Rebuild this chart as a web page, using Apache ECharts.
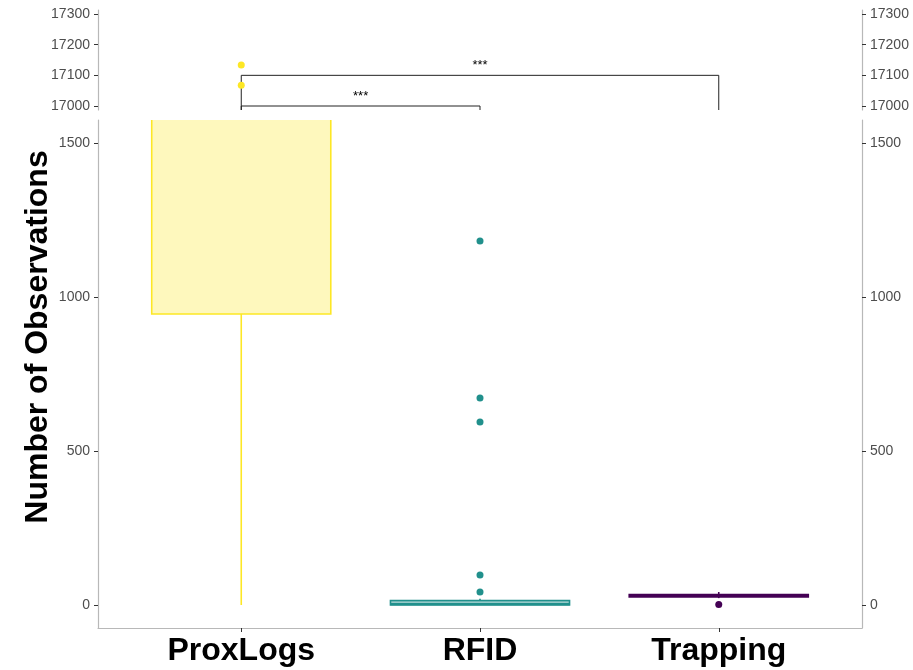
<!DOCTYPE html>
<html>
<head>
<meta charset="utf-8">
<script src="https://cdn.jsdelivr.net/npm/echarts@6/dist/echarts.min.js"></script>
<style>
  html, body { margin: 0; padding: 0; background: #fff; }
  #chart { width: 913px; height: 670px; }
</style>
</head>
<body>
<div id="chart"></div>
<script>
// Observations per method, shown as box plots on a broken y axis
const categories = ['ProxLogs', 'RFID', 'Trapping'];
const colors = ['#FDE725', '#21908C', '#440154'];

// Box statistics per method
const whiskerLow = [0, 0, 22];
const quartile1 = [945, 0, 26];
const medians = [2600, 3, 30];
const quartile3 = [5200, 14, 34];
const whiskerHigh = [9800, 20, 42];

// Outlying observations: [method index, value]
const outliers = [
  [0, 17068], [0, 17134],
  [1, 42], [1, 97], [1, 594], [1, 672], [1, 1182],
  [2, 1]
];

// Significance brackets between methods
const bracketFrom = [1, 1];
const bracketTo = [2, 3];
const bracketY = [17000, 17100];
const bracketText = ['***', '***'];

// Tick values of the two panels
const upperTicks = [17000, 17100, 17200, 17300];
const lowerTicks = [0, 500, 1000, 1500];

const BOX_HALF = 0.375;
const FONT = '"Liberation Sans", Arial, Helvetica, sans-serif';

const boxData = categories.map((c, i) => [i + 1, whiskerLow[i], quartile1[i], medians[i], quartile3[i], whiskerHigh[i]]);
const outlierData = outliers.map(d => [d[0] + 1, d[1], d[0]]);
const bracketData = bracketFrom.map((f, i) => [f, bracketTo[i], bracketY[i], bracketText[i]]);

function fillOf(hex) {
  const r = parseInt(hex.slice(1, 3), 16), g = parseInt(hex.slice(3, 5), 16), b = parseInt(hex.slice(5, 7), 16);
  return 'rgba(' + r + ',' + g + ',' + b + ',0.3)';
}

function renderBox(params, api) {
  const x = api.value(0);
  const low = api.value(1), q1 = api.value(2), med = api.value(3), q3 = api.value(4), high = api.value(5);
  const col = colors[params.dataIndex];
  const pLow = api.coord([x, low]);
  const pHigh = api.coord([x, high]);
  const pQ1L = api.coord([x - BOX_HALF, q1]);
  const pQ3R = api.coord([x + BOX_HALF, q3]);
  const pMedL = api.coord([x - BOX_HALF, med]);
  const pMedR = api.coord([x + BOX_HALF, med]);
  const lineStyle = { stroke: col, lineWidth: 1.6, fill: null };
  return {
    type: 'group',
    children: [
      { type: 'line', shape: { x1: pLow[0], y1: pLow[1], x2: pLow[0], y2: pQ1L[1] }, style: lineStyle },
      { type: 'line', shape: { x1: pHigh[0], y1: pQ3R[1], x2: pHigh[0], y2: pHigh[1] }, style: lineStyle },
      {
        type: 'rect',
        shape: { x: pQ1L[0], y: pQ3R[1], width: pQ3R[0] - pQ1L[0], height: pQ1L[1] - pQ3R[1] },
        style: { fill: fillOf(col), stroke: col, lineWidth: 1.6 }
      },
      { type: 'line', shape: { x1: pMedL[0], y1: pMedL[1], x2: pMedR[0], y2: pMedR[1] }, style: { stroke: col, lineWidth: 2.6 } }
    ]
  };
}

function renderBracket(params, api) {
  const a = api.value(0), b = api.value(1), y = api.value(2);
  const cs = params.coordSys;
  const bottom = cs.y + cs.height;
  const p1 = api.coord([a, y]);
  const p2 = api.coord([b, y]);
  return {
    type: 'group',
    children: [
      {
        type: 'polyline',
        shape: { points: [[p1[0], bottom], [p1[0], p1[1]], [p2[0], p2[1]], [p2[0], bottom]] },
        style: { stroke: '#222', lineWidth: 1, fill: null }
      },
      {
        type: 'text',
        x: (p1[0] + p2[0]) / 2,
        y: p1[1] - 3,
        style: {
          text: bracketText[params.dataIndex],
          fill: '#000', fontSize: 13, fontFamily: FONT,
          align: 'center', verticalAlign: 'bottom'
        }
      }
    ]
  };
}

const tickLabel = { color: '#4d4d4d', fontSize: 14, fontFamily: FONT, margin: 8, formatter: v => String(v) };
const axisLine = { show: true, onZero: false, lineStyle: { color: '#b8b8b8', width: 1.2 } };
const axisTick = { show: true, length: 4, lineStyle: { color: '#333', width: 1 } };

function yAxisFor(gridIndex, position, min, max, ticks) {
  return {
    type: 'value', gridIndex: gridIndex, position: position, min: min, max: max,
    axisLine: axisLine,
    axisTick: Object.assign({ customValues: ticks }, axisTick),
    axisLabel: Object.assign({ customValues: ticks }, tickLabel),
    splitLine: { show: false }
  };
}

const chart = echarts.init(document.getElementById('chart'), null, { renderer: 'canvas' });

chart.setOption({
  animation: false,
  backgroundColor: '#ffffff',
  grid: [
    { left: 98, right: 51, top: 10, height: 100 },
    { left: 98, right: 51, top: 120, height: 508 }
  ],
  xAxis: [
    { type: 'value', gridIndex: 0, min: 0.4, max: 3.6, show: false },
    {
      type: 'value', gridIndex: 1, min: 0.4, max: 3.6, position: 'bottom',
      axisLine: axisLine,
      axisTick: Object.assign({ customValues: [1, 2, 3] }, axisTick),
      axisLabel: {
        customValues: [1, 2, 3],
        formatter: v => categories[Math.round(v) - 1],
        color: '#000', fontSize: 32, fontWeight: 'bold', fontFamily: FONT, margin: 7
      },
      splitLine: { show: false }
    }
  ],
  yAxis: [
    yAxisFor(0, 'left', 16987, 17313, upperTicks),
    yAxisFor(0, 'right', 16987, 17313, upperTicks),
    yAxisFor(1, 'left', -75, 1575, lowerTicks),
    yAxisFor(1, 'right', -75, 1575, lowerTicks)
  ],
  graphic: [{
    type: 'text',
    x: 38, y: 337,
    rotation: Math.PI / 2,
    style: {
      text: 'Number of Observations',
      fill: '#000', fontSize: 32, fontWeight: 'bold', fontFamily: FONT,
      align: 'center', verticalAlign: 'middle'
    }
  }],
  series: [
    {
      type: 'custom', xAxisIndex: 0, yAxisIndex: 0, clip: true,
      renderItem: renderBox, data: boxData, encode: { x: 0, y: [1, 2, 3, 4, 5] }
    },
    {
      type: 'custom', xAxisIndex: 1, yAxisIndex: 2, clip: true,
      renderItem: renderBox, data: boxData, encode: { x: 0, y: [1, 2, 3, 4, 5] }
    },
    {
      type: 'scatter', xAxisIndex: 0, yAxisIndex: 0, clip: true,
      symbolSize: 7, data: outlierData,
      itemStyle: { color: p => colors[p.value[2]], opacity: 1 }
    },
    {
      type: 'scatter', xAxisIndex: 1, yAxisIndex: 2, clip: true,
      symbolSize: 7, data: outlierData,
      itemStyle: { color: p => colors[p.value[2]], opacity: 1 }
    },
    {
      type: 'custom', xAxisIndex: 0, yAxisIndex: 0, clip: false,
      renderItem: renderBracket, data: bracketData, encode: { x: [0, 1], y: 2 }
    }
  ]
});
</script>
</body>
</html>
